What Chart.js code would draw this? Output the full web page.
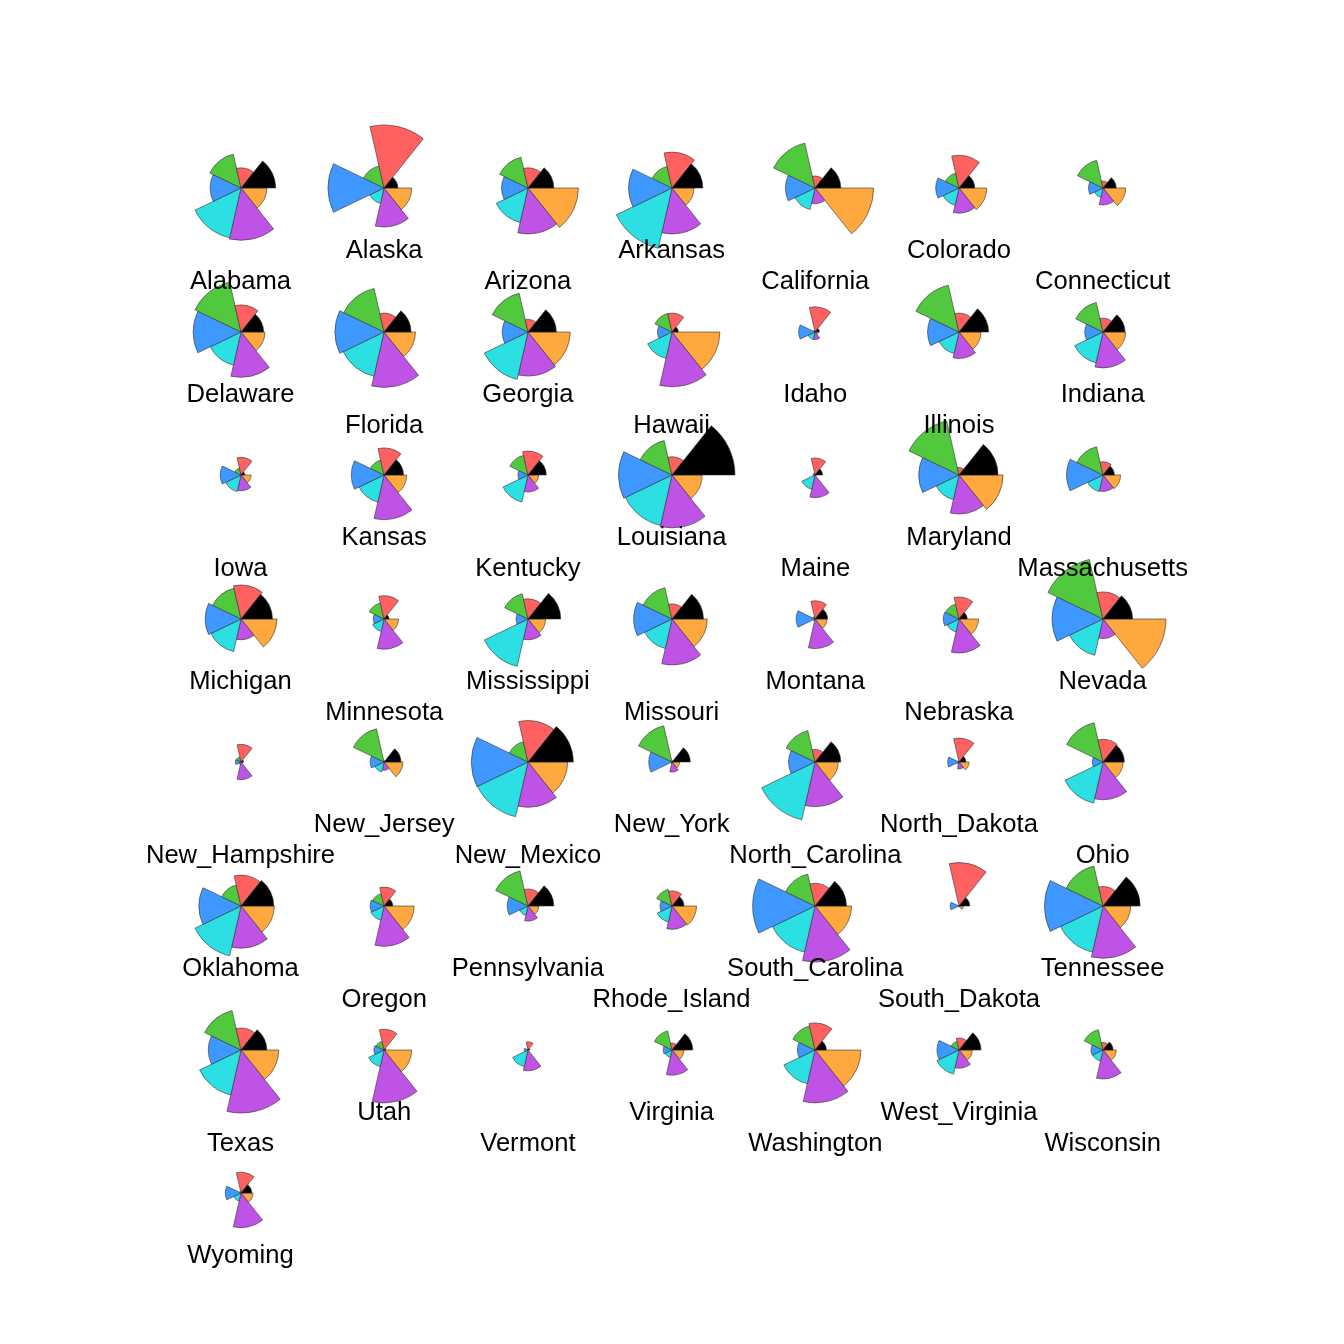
<!DOCTYPE html>
<html><head><meta charset="utf-8">
<script src="https://cdn.jsdelivr.net/npm/chart.js@4"></script>
<style>
html,body{margin:0;padding:0;background:#fff;width:1344px;height:1344px;overflow:hidden}
#plot{position:relative;width:1344px;height:1344px}
canvas{position:absolute}
.lab{position:absolute;transform:translate(-50%,-50%);font:25.6px "Liberation Sans",Arial,sans-serif;color:#000;white-space:nowrap;line-height:1}
</style></head><body><div id="plot"></div>
<script>
const states=["Alabama","Alaska","Arizona","Arkansas","California","Colorado","Connecticut",
"Delaware","Florida","Georgia","Hawaii","Idaho","Illinois","Indiana",
"Iowa","Kansas","Kentucky","Louisiana","Maine","Maryland","Massachusetts",
"Michigan","Minnesota","Mississippi","Missouri","Montana","Nebraska","Nevada",
"New_Hampshire","New_Jersey","New_Mexico","New_York","North_Carolina","North_Dakota","Ohio",
"Oklahoma","Oregon","Pennsylvania","Rhode_Island","South_Carolina","South_Dakota","Tennessee",
"Texas","Utah","Vermont","Virginia","Washington","West_Virginia","Wisconsin",
"Wyoming"];
const segBlack=[.55,.22,.41,.49,.41,.25,.21,
.36,.43,.45,.10,.07,.47,.35,
.06,.31,.29,1.0,.12,.62,.18,
.50,.08,.52,.50,.20,.13,.47,
.04,.27,.72,.29,.41,.11,.34,
.52,.14,.41,.19,.50,.17,.59,
.41,.03,.03,.33,.18,.35,.16,
.17];
const segRed=[.32,1.0,.32,.57,.19,.52,.11,
.43,.30,.20,.30,.40,.30,.22,
.28,.43,.38,.29,.27,.12,.21,
.54,.37,.32,.24,.29,.35,.43,
.28,.02,.66,.02,.20,.38,.36,
.49,.30,.27,.24,.36,.69,.31,
.35,.33,.13,.11,.43,.19,.12,
.33];
const segGreen=[.55,.36,.50,.35,.73,.24,.45,
.81,.71,.63,.30,.03,.76,.48,
.11,.24,.32,.56,.03,.88,.46,
.50,.26,.41,.51,.04,.24,.97,
.08,.54,.33,.59,.51,.02,.64,
.34,.20,.57,.27,.52,.01,.65,
.64,.14,.01,.31,.39,.14,.33,
.03];
const segBlue=[.49,.89,.42,.69,.47,.37,.23,
.76,.78,.41,.23,.26,.50,.29,
.33,.52,.16,.85,.03,.64,.58,
.57,.17,.19,.61,.30,.25,.81,
.09,.22,.90,.37,.42,.18,.17,
.67,.22,.33,.19,.99,.14,.93,
.52,.16,.06,.14,.28,.35,.19,
.25];
const segCyan=[.81,.25,.56,.98,.35,.28,.15,
.54,.72,.77,.43,.12,.35,.50,
.27,.44,.44,.82,.23,.40,.27,
.53,.20,.77,.48,.03,.21,.59,
.04,.16,.89,.02,.94,.04,.67,
.81,.23,.15,.26,.75,.01,.75,
.73,.27,.27,.12,.55,.39,.18,
.13];
const segPurple=[.83,.62,.73,.73,.25,.40,.27,
.72,.88,.70,.87,.12,.42,.57,
.25,.71,.27,.84,.36,.62,.26,
.33,.48,.33,.73,.47,.54,.31,
.28,.13,.72,.16,.71,.11,.60,
.67,.64,.24,.37,.89,.01,.83,
1.0,.84,.33,.40,.84,.29,.46,
.55];
const segOrange=[.41,.44,.80,.35,.93,.44,.36,
.38,.50,.67,.76,.05,.35,.36,
.16,.36,.17,.48,.02,.70,.28,
.57,.23,.28,.56,.19,.31,1.0,
.03,.30,.63,.12,.37,.16,.32,
.53,.48,.17,.39,.58,.07,.44,
.60,.44,.01,.19,.73,.21,.21,
.19];
const segNames=["orange","purple","cyan","blue","green","red","black"];
const segColors=["#FFA83F","#BF53E6","#2BDFE3","#3F98FF","#52C83E","#FF6060","#000000"];

const R=63,PAD=3,SIZE=2*(R+PAD);
const X0=240.5,DX=143.7,Y0=188,DY=143.6;
const plot=document.getElementById('plot');
states.forEach((name,i)=>{
  const cx=X0+(i%7)*DX, cy=Y0+Math.floor(i/7)*DY;
  const c=document.createElement('canvas');
  c.width=SIZE;c.height=SIZE;
  c.style.width=SIZE+'px';c.style.height=SIZE+'px';
  c.style.left=Math.round(cx-SIZE/2)+'px';c.style.top=Math.round(cy-SIZE/2)+'px';
  plot.appendChild(c);
  new Chart(c,{type:'polarArea',
    data:{labels:segNames,datasets:[{
      data:[segOrange[i],segPurple[i],segCyan[i],segBlue[i],segGreen[i],segRed[i],segBlack[i]],
      backgroundColor:segColors,borderColor:'rgba(50,50,50,0.8)',borderWidth:0.75}]},
    options:{responsive:false,animation:false,devicePixelRatio:1,
      layout:{padding:PAD},
      plugins:{legend:{display:false},tooltip:{enabled:false}},
      scales:{r:{display:false,min:0,max:1,startAngle:90}}}});
});
states.forEach((name,i)=>{
  const cx=X0+(i%7)*DX, cy=Y0+Math.floor(i/7)*DY;
  const d=document.createElement('div');
  d.className='lab';d.textContent=name;
  d.style.left=cx+'px';d.style.top=(cy+(i%2===0?93:62))+'px';
  plot.appendChild(d);
});
</script></body></html>
